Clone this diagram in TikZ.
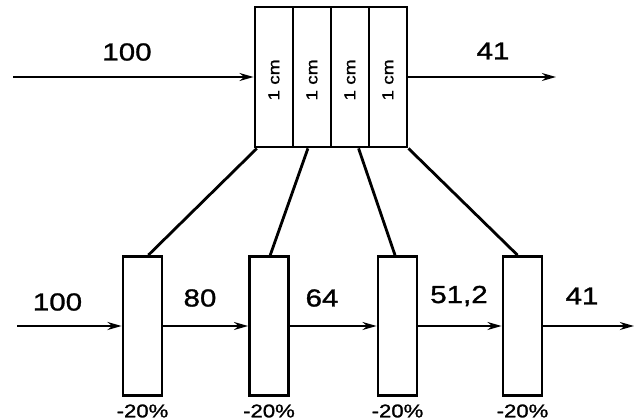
\documentclass[tikz,border=0pt]{standalone}
\usepackage{fontspec}
\setmainfont{Liberation Sans}[FakeStretch=1.2,FakeBold=1.2]
\usetikzlibrary{arrows.meta,calc}

\begin{document}
\begin{tikzpicture}[x=0.02cm,y=-0.02cm,
  strip/.style={draw,line width=1.6pt,minimum width=0.76cm,minimum height=2.8cm,inner sep=0pt},
  filter/.style={draw,line width=1.6pt,minimum width=0.78cm,minimum height=2.78cm,inner sep=0pt},
  flow/.style={line width=1.3pt,-{Stealth[length=8pt,width=4.5pt]}},
  link/.style={line width=1.6pt},
  num/.style={font=\fontsize{14}{16}\selectfont},
  pct/.style={font=\fontsize{10.5}{12}\selectfont},
  cmlbl/.style={font=\fontsize{9}{10}\selectfont,rotate=90}]
\useasboundingbox (0,0) rectangle (635,419);
% top block of four 1 cm strips
\node[strip] (s1) at (274,77) {};
\node[strip] (s2) at (312,77) {};
\node[strip] (s3) at (350,77) {};
\node[strip] (s4) at (388,77) {};
\node[cmlbl] (c1) at (274,80) {1 cm};
\node[cmlbl] (c2) at (312,80) {1 cm};
\node[cmlbl] (c3) at (350,80) {1 cm};
\node[cmlbl] (c4) at (388,80) {1 cm};
\coordinate (tin) at (13,77);
\coordinate (tout) at (556,77);
\draw[flow] (tin) -- (s1);
\draw[flow] (s4) -- (tout);
\node[num] (t100) at (127,52) {100};
\node[num] (t41) at (493,51) {41};
% bottom row of four filters
\node[filter] (b1) at (142.5,326) {};
\node[filter] (b2) at (269,326) {};
\node[filter] (b3) at (397.5,326) {};
\node[filter] (b4) at (522.5,326) {};
\coordinate (bin) at (17,326);
\coordinate (bout) at (634,326);
\draw[flow] (bin) -- (b1);
\draw[flow] (b1) -- (b2);
\draw[flow] (b2) -- (b3);
\draw[flow] (b3) -- (b4);
\draw[flow] (b4) -- (bout);
\node[num] (n100) at (57.5,302) {100};
\node[num] (n80) at (200,298) {80};
\node[num] (n64) at (322,298) {64};
\node[num] (n51) at (459,296) {51,2};
\node[num] (n41) at (582,296) {41};
\node[pct] (p1) at (142.5,411) {-20\%};
\node[pct] (p2) at (269,411) {-20\%};
\node[pct] (p3) at (397.5,411) {-20\%};
\node[pct] (p4) at (522.5,411) {-20\%};
% links from the strips to the filters
\draw[link] ($(s1.south west)!.08!(s1.south east)$) -- ($(b1.north west)!.64!(b1.north east)$);
\draw[link] ($(s2.south west)!.4!(s2.south east)$) -- ($(b2.north west)!.53!(b2.north east)$);
\draw[link] ($(s3.south west)!.71!(s3.south east)$) -- ($(b3.north west)!.44!(b3.north east)$);
\draw[link] (s4.south east) -- ($(b4.north west)!.38!(b4.north east)$);
\end{tikzpicture}
\end{document}
